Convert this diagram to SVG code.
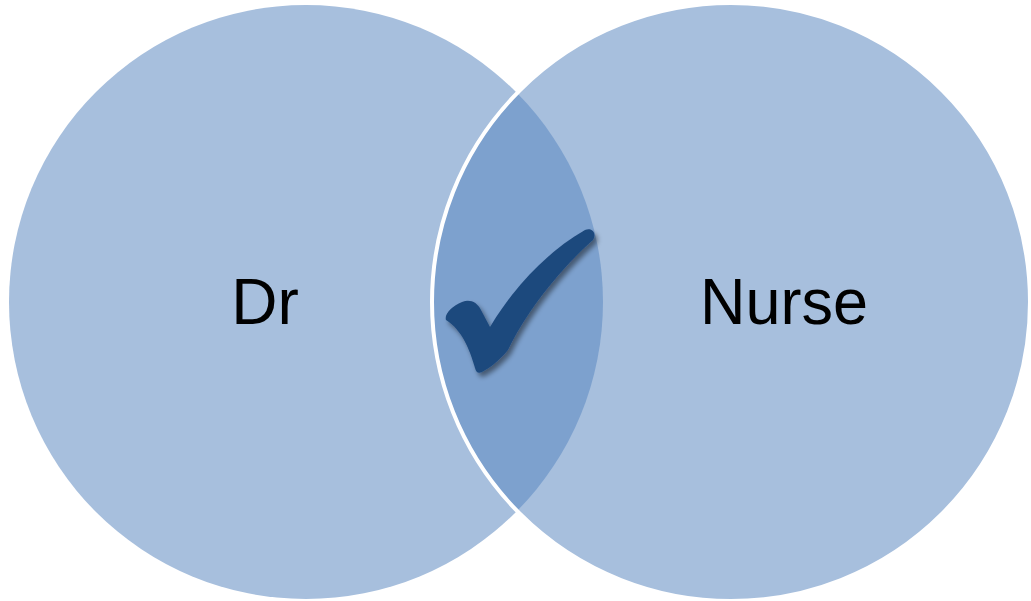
<svg xmlns="http://www.w3.org/2000/svg" width="1031" height="601" viewBox="0 0 1031 601">
<defs>
<style>
.circ{fill:#A7BFDD}
.lens{fill:#7DA1CE}
.lbl{font-family:"Liberation Sans","Open Sans",Arial,sans-serif;font-size:64px;fill:#000;text-anchor:middle}
</style>
<filter id="sh" x="-20%" y="-20%" width="150%" height="150%">
<feDropShadow dx="3" dy="4" stdDeviation="2.5" flood-color="#000" flood-opacity="0.45"/>
</filter>
</defs>
<rect width="1031" height="601" fill="#fff"/>
<g id="dr">
<circle class="circ" cx="306" cy="302" r="297"/>
</g>
<g id="nurse">
<circle class="circ" cx="731" cy="302" r="299"/>
</g>
<g id="overlap">
<path class="lens" d="M517 93 A297 297 0 0 1 517 511 A299 299 0 0 1 517 93 Z"/>
<circle cx="731" cy="302" r="299" fill="none" stroke="#fff" stroke-width="4"/>
</g>
<g id="check">
<path filter="url(#sh)" fill="#1F497D" d="M446 320 C444 314 452 306 462 302 C470 299 477 302 481 310 L490 327 C515 285 550 250 585 230 C592 227 597 233 593 240 C565 265 530 305 508 350 C500 360 490 368 482 372 C478 374 476 372 475 368 C470 350 462 330 446 320 Z"/>
</g>
<g id="connectors"/>
<text class="lbl" x="265" y="324">Dr</text>
<text class="lbl" x="784" y="324" textLength="168" lengthAdjust="spacingAndGlyphs">Nurse</text>
</svg>
